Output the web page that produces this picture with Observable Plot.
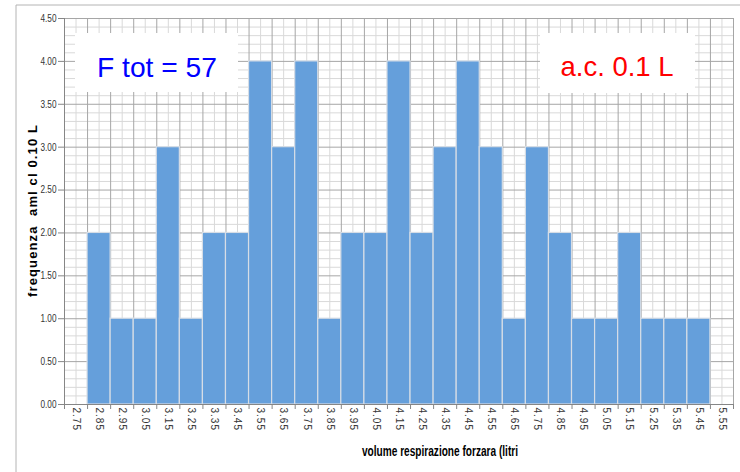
<!DOCTYPE html>
<html>
<head>
<meta charset="utf-8">
<script src="https://cdn.jsdelivr.net/npm/d3@7"></script>
<script src="https://cdn.jsdelivr.net/npm/@observablehq/plot@0.6"></script>
<style>
  html, body { margin: 0; padding: 0; background: #fff; }
  #chart { width: 740px; height: 472px; overflow: hidden; }
</style>
</head>
<body>
<div id="chart"></div>
<script>
// ---- data ----
const categories = ["2.75","2.85","2.95","3.05","3.15","3.25","3.35","3.45","3.55","3.65",
                    "3.75","3.85","3.95","4.05","4.15","4.25","4.35","4.45","4.55","4.65",
                    "4.75","4.85","4.95","5.05","5.15","5.25","5.35","5.45","5.55"];
const counts = [0,2,1,1,3,1,2,2,4,3,4,1,2,2,4,2,3,4,3,1,3,2,1,1,2,1,1,1,0];
const yTicks = [0, 0.5, 1, 1.5, 2, 2.5, 3, 3.5, 4, 4.5];
const yMinorTicks = [0.1,0.2,0.3,0.4,0.6,0.7,0.8,0.9,1.1,1.2,1.3,1.4,1.6,1.7,1.8,1.9,
                     2.1,2.2,2.3,2.4,2.6,2.7,2.8,2.9,3.1,3.2,3.3,3.4,3.6,3.7,3.8,3.9,
                     4.1,4.2,4.3,4.4];
const classWidth = 0.1;
const totalLabel = "F tot = 57";
const classLabel = "a.c. 0.1 L";
const yTitle = "frequenza  aml cl 0.10 L";
const xTitle = "volume respirazione forzara (litri";

// ---- derived tables ----
const centers = categories.map(Number);
const half = classWidth / 2;
const boundaries = centers.map(c => +(c - half).toFixed(2)).concat([+(centers[centers.length-1] + half).toFixed(2)]);
const bars = categories.map((c, i) => ({c: +c, n: counts[i]})).filter(d => d.n > 0);

const SANS = "'Liberation Sans', Arial, sans-serif";

const plot = Plot.plot({
  width: 740,
  height: 472,
  marginLeft: 64,
  marginRight: 7,
  marginTop: 18,
  marginBottom: 68,
  style: {fontFamily: SANS, fontSize: "10.5px", color: "#404040", background: "transparent"},
  x: {type: "linear", domain: [boundaries[0], boundaries[boundaries.length-1]]},
  y: {domain: [0, 4.5]},
  marks: [
    Plot.ruleY(yMinorTicks, {stroke: "#d9d9d9", strokeWidth: 1}),
    Plot.ruleX(centers, {stroke: "#d9d9d9", strokeWidth: 1}),
    Plot.ruleY(yTicks, {stroke: "#a6a6a6", strokeWidth: 1}),
    Plot.ruleX(boundaries, {stroke: "#a6a6a6", strokeWidth: 1}),
    Plot.rectY(bars, {x1: d => d.c - half, x2: d => d.c + half, y: "n",
                      fill: "#659fdb", stroke: "#d6dde6", strokeWidth: 1.2}),
    Plot.ruleX([boundaries[0]], {stroke: "#868686"}),
    Plot.ruleY([0], {stroke: "#868686"}),
    Plot.axisY({ticks: yTicks, tickFormat: d => d.toFixed(2), tickSize: 6, tickPadding: 2,
                stroke: "#868686", color: "#333", label: null, fontSize: 10.5}),
    Plot.axisX({ticks: boundaries, tickFormat: () => "", tickSize: 5, stroke: "#868686", label: null}),
    Plot.axisX({ticks: centers, tickFormat: d => d.toFixed(2), tickSize: 0, tickPadding: 3,
                tickRotate: 90, color: "#333", label: null, fontSize: 10})
  ]
});

const svg = d3.select(plot);
// condense y tick labels like the reference
svg.selectAll('g[aria-label="y-axis tick label"] text')
  .attr("textLength", 16).attr("lengthAdjust", "spacingAndGlyphs");
svg.selectAll('g[aria-label="x-axis tick label"] text')
  .style("letter-spacing", "1px");

// outer chart frame
svg.insert("path", ":first-child").attr("d", "M16,472V5H740").attr("fill", "none").attr("stroke", "#b4b4b4");

// text boxes
function box(x, y, w, h, label, color, tx, ty, len) {
  svg.append("rect").attr("x", x).attr("y", y).attr("width", w).attr("height", h).attr("fill", "#fff");
  svg.append("text").attr("x", tx).attr("y", ty).attr("text-anchor", "middle")
    .attr("font-family", SANS).attr("font-size", 28)
    .attr("textLength", len).attr("lengthAdjust", "spacingAndGlyphs")
    .attr("fill", color).text(label);
}
box(75, 33, 163, 59, totalLabel, "#0000ff", 157, 77, 120);
box(540, 33, 155, 60, classLabel, "#ff0000", 617, 76, 113);

// axis titles
svg.append("text").attr("transform", "translate(37,211) rotate(-90)").attr("text-anchor", "middle")
  .attr("font-family", SANS).attr("font-weight", "bold")
  .attr("font-size", 13).attr("fill", "#000")
  .attr("textLength", 172).attr("lengthAdjust", "spacing")
  .style("white-space", "pre").text(yTitle);
svg.append("text").attr("x", 440).attr("y", 456).attr("text-anchor", "middle")
  .attr("font-family", SANS).attr("font-weight", "bold")
  .attr("font-size", 14).attr("fill", "#000")
  .attr("textLength", 156).attr("lengthAdjust", "spacingAndGlyphs")
  .text(xTitle);

document.getElementById("chart").appendChild(plot);
</script>
</body>
</html>
